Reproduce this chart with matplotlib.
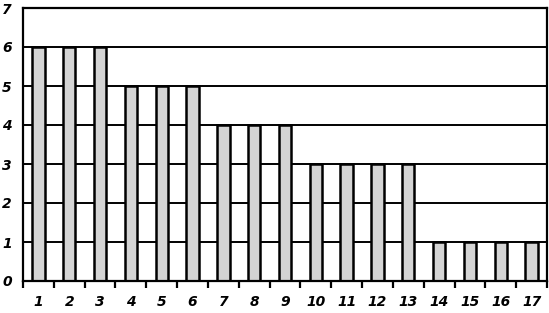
import matplotlib.pyplot as plt
import numpy as np

# ── Data ──────────────────────────────────────────────────────────────────────
categories = [str(i) for i in range(1, 18)]
values = [6, 6, 6, 5, 5, 5, 4, 4, 4, 3, 3, 3, 3, 1, 1, 1, 1]
y_ticks = [0, 1, 2, 3, 4, 5, 6, 7]

# ── Figure ────────────────────────────────────────────────────────────────────
fig = plt.figure(figsize=(5.49, 3.13), dpi=100)
ax = fig.add_axes([23 / 549, 32 / 313, 524 / 549, 273 / 313])

x = np.arange(len(categories))
for yv in y_ticks[1:]:
    ax.axhline(yv, color='black', lw=1.4, zorder=1)

ax.bar(x, values, width=0.4, color='#d4d4d4', edgecolor='black',
       linewidth=1.8, zorder=2)

ax.set_xlim(-0.5, len(categories) - 0.5)
ax.set_ylim(0, 7)

# category boundary ticks below the baseline
ax.set_xticks(np.arange(-0.5, len(categories), 1.0), minor=True)
ax.tick_params(axis='x', which='minor', length=5, width=1.6, direction='out')
ax.set_xticks(x)
ax.set_xticklabels(categories, fontsize=10, fontstyle='italic',
                   fontweight='bold')
ax.tick_params(axis='x', which='major', length=0, pad=10)

ax.set_yticks(y_ticks)
ax.set_yticklabels([str(v) for v in y_ticks], fontsize=10,
                   fontstyle='italic', fontweight='bold')
ax.tick_params(axis='y', length=0, pad=8)

for s in ax.spines.values():
    s.set_linewidth(1.6)
    s.set_zorder(3)

fig.savefig('out.png', dpi=100)
